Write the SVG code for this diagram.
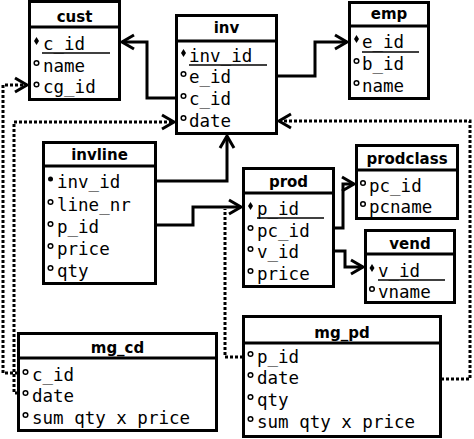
<svg xmlns="http://www.w3.org/2000/svg" width="474" height="439" viewBox="0 0 474 439">
<defs>
<style>
.box{fill:#fff;stroke:#000;stroke-width:3}
.hl{stroke:#000;stroke-width:3}
.ul{stroke:#000;stroke-width:1.5}
.hd{font-family:"DejaVu Sans",sans-serif;font-weight:bold;font-size:15px;text-anchor:middle;fill:#000}
.f{font-family:"DejaVu Sans Mono",monospace;font-size:17.5px;fill:#000}
.o{fill:#fff;stroke:#000;stroke-width:1.5}
.k{fill:#000}
.c{fill:none;stroke:#000;stroke-width:3;marker-end:url(#ah)}
.d{fill:none;stroke:#000;stroke-width:3;stroke-dasharray:3,2;marker-end:url(#ah)}
.dn{fill:none;stroke:#000;stroke-width:3;stroke-dasharray:3,2}
</style>
<marker id="ah" markerUnits="userSpaceOnUse" markerWidth="20" markerHeight="20" viewBox="-14 -10 20 20" refX="0" refY="0" orient="auto" overflow="visible">
<path d="M-12,-7 L0,0 L-12,7" fill="none" stroke="#000" stroke-width="3"/>
</marker>
</defs>
<rect width="474" height="439" fill="#fff"/>

<g id="connectors">
<path class="c" d="M176,98 H147 V42 H122"/>
<path class="c" d="M277,76 H315 V42 H347"/>
<path class="c" d="M156,181 H227 V136"/>
<path class="c" d="M156,225 H193 V207 H241"/>
<path class="c" d="M334,228 H343 V184 H354"/>
<path class="c" d="M334,251 H345 V267 H363"/>
<path class="d" d="M18,373 H3 V85 H27"/>
<path class="d" d="M18,393 H14 V122 H174"/>
<path class="d" d="M441,379 H470 V121 H279"/>
<path class="dn" d="M243,357 H225 V209"/>
</g>

<g id="cust">
<rect class="box" x="29.5" y="1.5" width="90" height="98"/>
<line class="hl" x1="29.5" y1="27" x2="119.5" y2="27"/>
<text class="hd" x="74.5" y="22">cust</text>
<path class="k" d="M36.5,37 L39,41 L36.5,45 L34,41 Z"/>
<text class="f" x="43" y="50">c_id</text>
<line class="ul" x1="42" y1="53" x2="110" y2="53"/>
<circle class="o" cx="36.5" cy="63" r="2.3"/>
<text class="f" x="43" y="72">name</text>
<circle class="o" cx="36.5" cy="84.5" r="2.3"/>
<text class="f" x="43" y="93">cg_id</text>
</g>

<g id="inv">
<rect class="box" x="176.5" y="15.5" width="100" height="118"/>
<line class="hl" x1="176.5" y1="41" x2="276.5" y2="41"/>
<text class="hd" x="226.5" y="33">inv</text>
<path class="k" d="M183.5,49 L186,53 L183.5,57 L181,53 Z"/>
<text class="f" x="189" y="62">inv_id</text>
<line class="ul" x1="189" y1="65" x2="267" y2="65"/>
<circle class="o" cx="183.5" cy="74" r="2.3"/>
<text class="f" x="189" y="83">e_id</text>
<circle class="o" cx="183.5" cy="96" r="2.3"/>
<text class="f" x="189" y="105">c_id</text>
<circle class="o" cx="183.5" cy="118" r="2.3"/>
<text class="f" x="189" y="127">date</text>
</g>

<g id="emp">
<rect class="box" x="349.5" y="2.5" width="79" height="96"/>
<line class="hl" x1="349.5" y1="26" x2="428.5" y2="26"/>
<text class="hd" x="389" y="19">emp</text>
<path class="k" d="M356.5,35 L359,39 L356.5,43 L354,39 Z"/>
<text class="f" x="362" y="48">e_id</text>
<line class="ul" x1="362" y1="52" x2="419" y2="52"/>
<circle class="o" cx="356.5" cy="61" r="2.3"/>
<text class="f" x="362" y="70">b_id</text>
<circle class="o" cx="356.5" cy="83" r="2.3"/>
<text class="f" x="362" y="92">name</text>
</g>

<g id="invline">
<rect class="box" x="43.5" y="142.5" width="112" height="141"/>
<line class="hl" x1="43.5" y1="166" x2="155.5" y2="166"/>
<text class="hd" x="99.5" y="160">invline</text>
<circle class="k" cx="50.5" cy="179" r="2.5"/>
<text class="f" x="57" y="188">inv_id</text>
<circle class="o" cx="50.5" cy="202" r="2.3"/>
<text class="f" x="57" y="211">line_nr</text>
<circle class="o" cx="50.5" cy="224" r="2.3"/>
<text class="f" x="57" y="233">p_id</text>
<circle class="o" cx="50.5" cy="246" r="2.3"/>
<text class="f" x="57" y="255">price</text>
<circle class="o" cx="50.5" cy="268" r="2.3"/>
<text class="f" x="57" y="277">qty</text>
</g>

<g id="prod">
<rect class="box" x="243.5" y="168.5" width="90" height="118"/>
<line class="hl" x1="243.5" y1="193" x2="333.5" y2="193"/>
<text class="hd" x="288.5" y="187">prod</text>
<path class="k" d="M250.5,202 L253,206 L250.5,210 L248,206 Z"/>
<text class="f" x="257" y="215">p_id</text>
<line class="ul" x1="257" y1="218" x2="324" y2="218"/>
<circle class="o" cx="250.5" cy="228" r="2.3"/>
<text class="f" x="257" y="237">pc_id</text>
<circle class="o" cx="250.5" cy="249" r="2.3"/>
<text class="f" x="257" y="258">v_id</text>
<circle class="o" cx="250.5" cy="271" r="2.3"/>
<text class="f" x="257" y="280">price</text>
</g>

<g id="prodclass">
<rect class="box" x="356.5" y="145.5" width="101" height="73"/>
<line class="hl" x1="356.5" y1="170" x2="457.5" y2="170"/>
<text class="hd" x="407" y="164">prodclass</text>
<circle class="o" cx="363" cy="183" r="2.3"/>
<text class="f" x="369" y="192">pc_id</text>
<circle class="o" cx="363" cy="204" r="2.3"/>
<text class="f" x="369" y="213">pcname</text>
</g>

<g id="vend">
<rect class="box" x="365.5" y="230.5" width="89" height="72"/>
<line class="hl" x1="365.5" y1="254" x2="454.5" y2="254"/>
<text class="hd" x="410" y="249">vend</text>
<path class="k" d="M372,264 L374.5,268 L372,272 L369.5,268 Z"/>
<text class="f" x="378" y="277">v_id</text>
<line class="ul" x1="378" y1="280" x2="445" y2="280"/>
<circle class="o" cx="372" cy="289" r="2.3"/>
<text class="f" x="378" y="298">vname</text>
</g>

<g id="mg_cd">
<rect class="box" x="18.5" y="333.5" width="198" height="97"/>
<line class="hl" x1="18.5" y1="358" x2="216.5" y2="358"/>
<text class="hd" x="117.5" y="353">mg_cd</text>
<circle class="o" cx="25.5" cy="372" r="2.3"/>
<text class="f" x="32" y="381">c_id</text>
<circle class="o" cx="25.5" cy="393" r="2.3"/>
<text class="f" x="32" y="402">date</text>
<circle class="o" cx="25.5" cy="415" r="2.3"/>
<text class="f" x="32" y="424">sum qty x price</text>
</g>

<g id="mg_pd">
<rect class="box" x="243.5" y="316.5" width="197" height="120"/>
<line class="hl" x1="243.5" y1="343" x2="440.5" y2="343"/>
<text class="hd" x="342" y="338">mg_pd</text>
<circle class="o" cx="250.5" cy="354" r="2.3"/>
<text class="f" x="257" y="363">p_id</text>
<circle class="o" cx="250.5" cy="375" r="2.3"/>
<text class="f" x="257" y="384">date</text>
<circle class="o" cx="250.5" cy="397" r="2.3"/>
<text class="f" x="257" y="406">qty</text>
<circle class="o" cx="250.5" cy="419" r="2.3"/>
<text class="f" x="257" y="428">sum qty x price</text>
</g>
</svg>
